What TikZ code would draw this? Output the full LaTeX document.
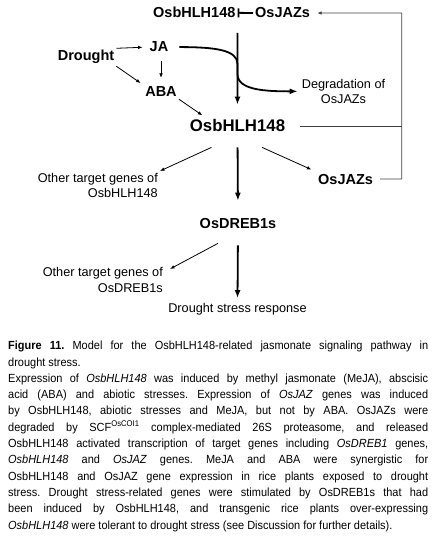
\documentclass[tikz,border=0pt]{standalone}
\usepackage{fontspec}
\setmainfont{Liberation Sans}
\newfontfamily\capfont[FakeStretch=0.93]{Liberation Sans}
\usetikzlibrary{arrows.meta}

\tikzset{
  big/.style={font=\fontsize{14.5}{17}\selectfont\bfseries,inner sep=2pt},
  bigger/.style={font=\fontsize{16.8}{19}\selectfont\bfseries,inner sep=2pt},
  small/.style={font=\fontsize{12.7}{15}\selectfont,inner sep=2pt},
  caption/.style={font=\capfont\fontsize{11.8}{16.3}\selectfont\frenchspacing,inner sep=0pt,
    text width=420pt,align=justify},
  thinarrow/.style={line width=0.8pt,-{Latex[length=4.5pt,width=3.6pt]}},
  thickarrow/.style={line width=1.8pt,-{Latex[length=8pt,width=6pt]}},
  bararrow/.style={line width=1.8pt,-{Bar[width=9pt]}},
  fbline/.style={line width=0.9pt,black!75},
}

\begin{document}
\begin{tikzpicture}[x=1pt,y=-1pt]
\useasboundingbox (0,0) rectangle (434,540);
\draw (237.6,18) node[big,anchor=base east](HLHtop) {OsbHLH148};
\draw (253,18) node[big,anchor=base west](JAZtop) {OsJAZs};
\draw (159,52) node[big,anchor=base](JA) {JA};
\draw (86,61) node[big,anchor=base](Drought) {Drought};
\draw (161,97) node[big,anchor=base](ABA) {ABA};
\draw (343.5,77) node[small,anchor=north,align=center](Deg) {Degradation of\\OsJAZs};
\draw (237.5,132) node[bigger,anchor=base](HLHmid) {OsbHLH148};
\draw (160,171) node[small,anchor=north east,align=right](Other1) {Other target genes of\\OsbHLH148};
\draw (316,184) node[big,anchor=base west](JAZlow) {OsJAZs};
\draw (238,228) node[big,anchor=base](DREB) {OsDREB1s};
\draw (165,265) node[small,anchor=north east,align=right,font=\fontsize{12.7}{16}\selectfont](Other2) {Other target genes of\\OsDREB1s};
\draw (237.5,312) node[small,anchor=base](Resp) {Drought stress response};
\coordinate (fbtop) at (401.7,13);
\coordinate (cross1) at (237.5,64);
\coordinate (cross2) at (237.5,74);

\draw[bararrow] (JAZtop.west) -- (HLHtop.east);
\draw[thickarrow,shorten <=12.5pt,shorten >=13pt] (HLHtop.south east) -- (HLHmid.north);
\draw[thickarrow,shorten <=9pt,shorten >=2pt] (JA.east) .. controls +(45,0) and +(0,-14) .. (cross1) -- (cross2) .. controls +(0,16) and +(-35,0) .. (Deg.west);
\draw[fbline,-{Latex[length=4.5pt,width=3.6pt]},shorten <=5pt,shorten >=5pt] (JAZlow.east) -| (fbtop) -- (JAZtop.east);
\draw[fbline,shorten <=13pt] (HLHmid.east) -- (HLHmid.east -| fbtop);
\draw[thinarrow,shorten >=5pt] (Drought.north east) -- (JA.west);
\draw[thinarrow,shorten >=3pt] (Drought.south east) -- (ABA.north west);
\draw[thinarrow,shorten <=7pt,shorten >=7pt] ([xshift=2pt]JA.south) -- (ABA.north);
\draw[thinarrow,shorten >=4pt] (ABA.south east) -- ([xshift=18pt]HLHmid.north west);
\draw[thinarrow] ([xshift=-26pt,yshift=-13pt]HLHmid.south) -- (Other1.north east);
\draw[thickarrow,shorten <=13pt,shorten >=15pt] (HLHmid.south) -- (DREB.north);
\draw[thinarrow,shorten >=5pt] ([xshift=24.5pt,yshift=-13pt]HLHmid.south) -- (JAZlow.north west);
\draw[thinarrow] ([xshift=-20pt,yshift=-13pt]DREB.south) -- ([xshift=5pt,yshift=-4pt]Other2.north east);
\draw[thickarrow,shorten <=15pt,shorten >=2.5pt] (DREB.south) -- (Resp.north);

\draw (8,341) node[caption,anchor=north west](Cap) {\textbf{Figure 11.} Model for the OsbHLH148-related jasmonate signaling pathway in\linebreak
drought stress.\newline
Expression of \textit{OsbHLH148} was induced by methyl jasmonate (MeJA), abscisic\linebreak
acid (ABA) and abiotic stresses. Expression of \textit{OsJAZ} genes was induced\linebreak
by OsbHLH148, abiotic stresses and MeJA, but not by ABA. OsJAZs were\linebreak
degraded by SCF\textsuperscript{OsCOI1} complex-mediated 26S proteasome, and released\linebreak
OsbHLH148 activated transcription of target genes including \textit{OsDREB1} genes,\linebreak
\textit{OsbHLH148} and \textit{OsJAZ} genes. MeJA and ABA were synergistic for\linebreak
OsbHLH148 and OsJAZ gene expression in rice plants exposed to drought\linebreak
stress. Drought stress-related genes were stimulated by OsDREB1s that had\linebreak
been induced by OsbHLH148, and transgenic rice plants over-expressing\linebreak
\textit{OsbHLH148} were tolerant to drought stress (see Discussion for further details).\parfillskip=0pt};
\end{tikzpicture}
\end{document}
